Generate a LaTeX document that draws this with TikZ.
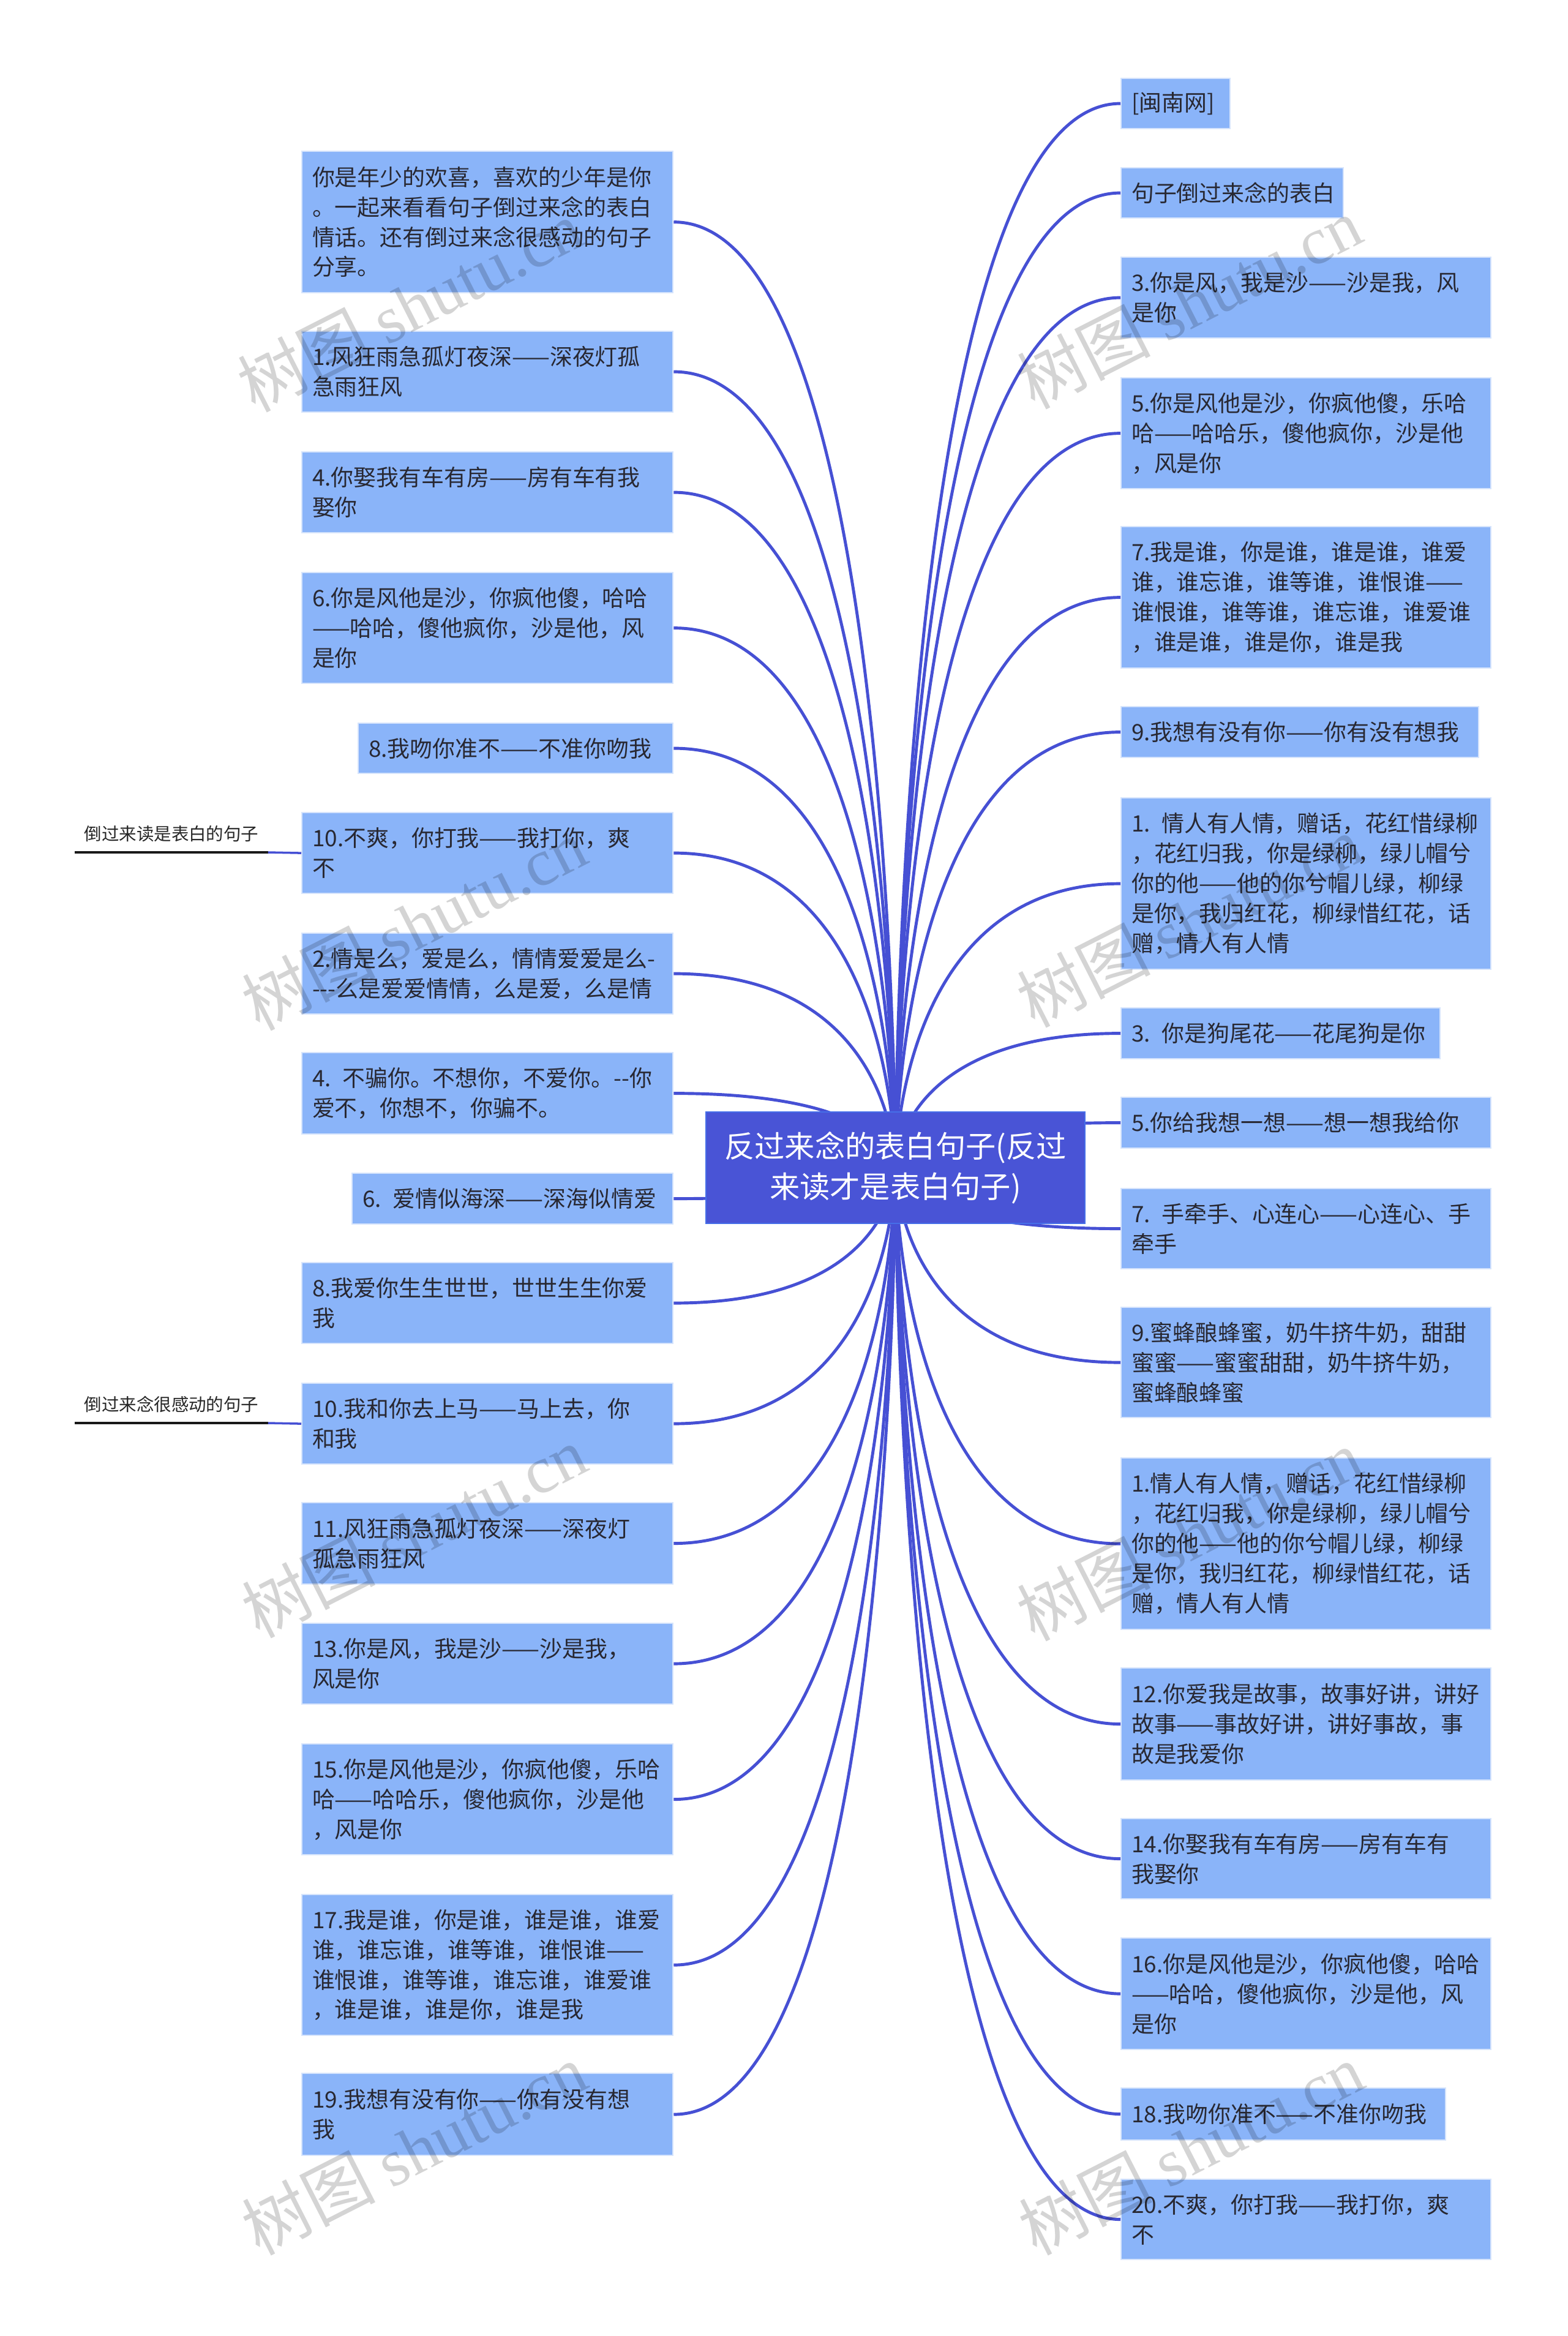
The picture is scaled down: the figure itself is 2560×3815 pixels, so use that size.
\documentclass[tikz,border=0pt]{standalone}
\usepackage{fontspec}
\newfontfamily\cjk{Noto Sans CJK SC}
\newfontfamily\wmserif{Liberation Serif}
\definecolor{boxfill}{RGB}{138,180,249}
\definecolor{boxedge}{RGB}{214,228,252}
\definecolor{rootfill}{RGB}{73,84,214}
\definecolor{rootedge}{RGB}{70,110,232}
\definecolor{linkblue}{RGB}{70,80,212}
\definecolor{txt}{RGB}{40,40,50}
\begin{document}
\begin{tikzpicture}[x=0.01cm, y=-0.01cm,
  leaf/.style={draw=boxedge, line width=0.6pt, fill=boxfill, text=txt,
    font=\cjk\fontsize{10.5}{13.9}\selectfont, align=left,
    inner xsep=0.17cm, inner ysep=0pt, anchor=north west},
  rootbox/.style={draw=rootedge, line width=0.6pt, fill=rootfill, text=white,
    font=\cjk\fontsize{14}{18.7}\selectfont, align=center, inner sep=0pt},
  link/.style={draw=linkblue, line width=1.4pt},
  sublab/.style={font=\cjk\fontsize{8.1}{10}\selectfont, text=black!85,
    anchor=south, minimum width=3.14cm, inner xsep=0pt, inner ysep=0.16cm},
  uline/.style={draw=black!90, line width=0.9pt},
  wm/.style={font=\cjk\fontsize{31}{31}\selectfont, text=black, text opacity=0.17, rotate=27}
]
\fill[white] (0,0) rectangle (2560,3815);
\useasboundingbox (0,0) rectangle (2560,3815);

% left column
\node[leaf, text width=5.72cm, minimum height=2.31cm] (l1) at (492,246) {你是年少的欢喜，喜欢的少年是你\\。一起来看看句子倒过来念的表白\\情话。还有倒过来念很感动的句子\\分享。};
\node[leaf, text width=5.72cm, minimum height=1.32cm] (l2) at (492,540) {1.风狂雨急孤灯夜深——深夜灯孤\\急雨狂风};
\node[leaf, text width=5.72cm, minimum height=1.32cm] (l3) at (492,737) {4.你娶我有车有房——房有车有我\\娶你};
\node[leaf, text width=5.72cm, minimum height=1.81cm] (l4) at (492,934) {6.你是风他是沙，你疯他傻，哈哈\\——哈哈，傻他疯你，沙是他，风\\是你};
\node[leaf, text width=4.80cm, minimum height=0.82cm] (l5) at (584,1180) {8.我吻你准不——不准你吻我};
\node[leaf, text width=5.72cm, minimum height=1.32cm] (l6) at (492,1326) {10.不爽，你打我——我打你，爽\\不};
\node[leaf, text width=5.72cm, minimum height=1.32cm] (l7) at (492,1523) {2.情是么，爱是么，情情爱爱是么{-}\\{-}{-}{-}么是爱爱情情，么是爱，么是情};
\node[leaf, text width=5.72cm, minimum height=1.33cm] (l8) at (492,1718) {4. 不骗你。不想你，不爱你。{-}{-}你\\爱不，你想不，你骗不。};
\node[leaf, text width=4.90cm, minimum height=0.83cm] (l9) at (574,1915) {6. 爱情似海深——深海似情爱};
\node[leaf, text width=5.72cm, minimum height=1.32cm] (l10) at (492,2061) {8.我爱你生生世世，世世生生你爱\\我};
\node[leaf, text width=5.72cm, minimum height=1.32cm] (l11) at (492,2258) {10.我和你去上马——马上去，你\\和我};
\node[leaf, text width=5.72cm, minimum height=1.33cm] (l12) at (492,2453) {11.风狂雨急孤灯夜深——深夜灯\\孤急雨狂风};
\node[leaf, text width=5.72cm, minimum height=1.32cm] (l13) at (492,2650) {13.你是风，我是沙——沙是我，\\风是你};
\node[leaf, text width=5.72cm, minimum height=1.81cm] (l14) at (492,2847) {15.你是风他是沙，你疯他傻，乐哈\\哈——哈哈乐，傻他疯你，沙是他\\，风是你};
\node[leaf, text width=5.72cm, minimum height=2.30cm] (l15) at (492,3093) {17.我是谁，你是谁，谁是谁，谁爱\\谁，谁忘谁，谁等谁，谁恨谁——\\谁恨谁，谁等谁，谁忘谁，谁爱谁\\，谁是谁，谁是你，谁是我};
\node[leaf, text width=5.72cm, minimum height=1.34cm] (l16) at (492,3385) {19.我想有没有你——你有没有想\\我};

% right column
\node[leaf, text width=1.44cm, minimum height=0.82cm] (r1) at (1830,127) {[闽南网]};
\node[leaf, text width=3.29cm, minimum height=0.82cm] (r2) at (1830,273) {句子倒过来念的表白};
\node[leaf, text width=5.70cm, minimum height=1.32cm] (r3) at (1830,419) {3.你是风，我是沙——沙是我，风\\是你};
\node[leaf, text width=5.70cm, minimum height=1.81cm] (r4) at (1830,616) {5.你是风他是沙，你疯他傻，乐哈\\哈——哈哈乐，傻他疯你，沙是他\\，风是你};
\node[leaf, text width=5.70cm, minimum height=2.31cm] (r5) at (1830,859) {7.我是谁，你是谁，谁是谁，谁爱\\谁，谁忘谁，谁等谁，谁恨谁——\\谁恨谁，谁等谁，谁忘谁，谁爱谁\\，谁是谁，谁是你，谁是我};
\node[leaf, text width=5.50cm, minimum height=0.83cm] (r6) at (1830,1153) {9.我想有没有你——你有没有想我};
\node[leaf, text width=5.70cm, minimum height=2.80cm] (r7) at (1830,1302) {1. 情人有人情，赠话，花红惜绿柳\\，花红归我，你是绿柳，绿儿帽兮\\你的他——他的你兮帽儿绿，柳绿\\是你，我归红花，柳绿惜红花，话\\赠，情人有人情};
\node[leaf, text width=4.87cm, minimum height=0.83cm] (r8) at (1830,1645) {3. 你是狗尾花——花尾狗是你};
\node[leaf, text width=5.70cm, minimum height=0.83cm] (r9) at (1830,1791) {5.你给我想一想——想一想我给你};
\node[leaf, text width=5.70cm, minimum height=1.31cm] (r10) at (1830,1940) {7. 手牵手、心连心——心连心、手\\牵手};
\node[leaf, text width=5.70cm, minimum height=1.80cm] (r11) at (1830,2134) {9.蜜蜂酿蜂蜜，奶牛挤牛奶，甜甜\\蜜蜜——蜜蜜甜甜，奶牛挤牛奶，\\蜜蜂酿蜂蜜};
\node[leaf, text width=5.70cm, minimum height=2.80cm] (r12) at (1830,2380) {1.情人有人情，赠话，花红惜绿柳\\，花红归我，你是绿柳，绿儿帽兮\\你的他——他的你兮帽儿绿，柳绿\\是你，我归红花，柳绿惜红花，话\\赠，情人有人情};
\node[leaf, text width=5.70cm, minimum height=1.83cm] (r13) at (1830,2723) {12.你爱我是故事，故事好讲，讲好\\故事——事故好讲，讲好事故，事\\故是我爱你};
\node[leaf, text width=5.70cm, minimum height=1.31cm] (r14) at (1830,2969) {14.你娶我有车有房——房有车有\\我娶你};
\node[leaf, text width=5.70cm, minimum height=1.82cm] (r15) at (1830,3164) {16.你是风他是沙，你疯他傻，哈哈\\——哈哈，傻他疯你，沙是他，风\\是你};
\node[leaf, text width=4.96cm, minimum height=0.85cm] (r16) at (1830,3409) {18.我吻你准不——不准你吻我};
\node[leaf, text width=5.70cm, minimum height=1.31cm] (r17) at (1830,3558) {20.不爽，你打我——我打你，爽\\不};

% connectors from the root centre
\coordinate (rc) at (1462.5,1907);
\foreach \i in {1,...,16}
  \draw[link] (rc) .. controls (rc) and (rc |- l\i.east) .. (l\i.east);
\foreach \i in {1,...,17}
  \draw[link] (rc) .. controls (rc) and (rc |- r\i.west) .. (r\i.west);

% root
\node[rootbox, minimum width=6.19cm, minimum height=1.82cm] (root) at (rc) {反过来念的表白句子(反过\\来读才是表白句子)};

% sub labels on the left
\node[sublab] (a1) at (280,1392) {倒过来读是表白的句子};
\draw[uline] (a1.south west) -- (a1.south east);
\draw[link, line width=1pt] (l6.west) -- (a1.south east);
\node[sublab] (a2) at (280,2324) {倒过来念很感动的句子};
\draw[uline] (a2.south west) -- (a2.south east);
\draw[link, line width=1pt] (l11.west) -- (a2.south east);

% watermarks
\node[wm] (w1) at (669,499) {树图 {\wmserif shutu.cn}};
\node[wm] (w2) at (676,1509) {树图 {\wmserif shutu.cn}};
\node[wm] (w3) at (676,2501) {树图 {\wmserif shutu.cn}};
\node[wm] (w4) at (676,3509) {树图 {\wmserif shutu.cn}};
\node[wm] (w5) at (1942,494) {树图 {\wmserif shutu.cn}};
\node[wm] (w6) at (1942,1504) {树图 {\wmserif shutu.cn}};
\node[wm] (w7) at (1942,2506) {树图 {\wmserif shutu.cn}};
\node[wm] (w8) at (1945,3509) {树图 {\wmserif shutu.cn}};
\end{tikzpicture}
\end{document}
